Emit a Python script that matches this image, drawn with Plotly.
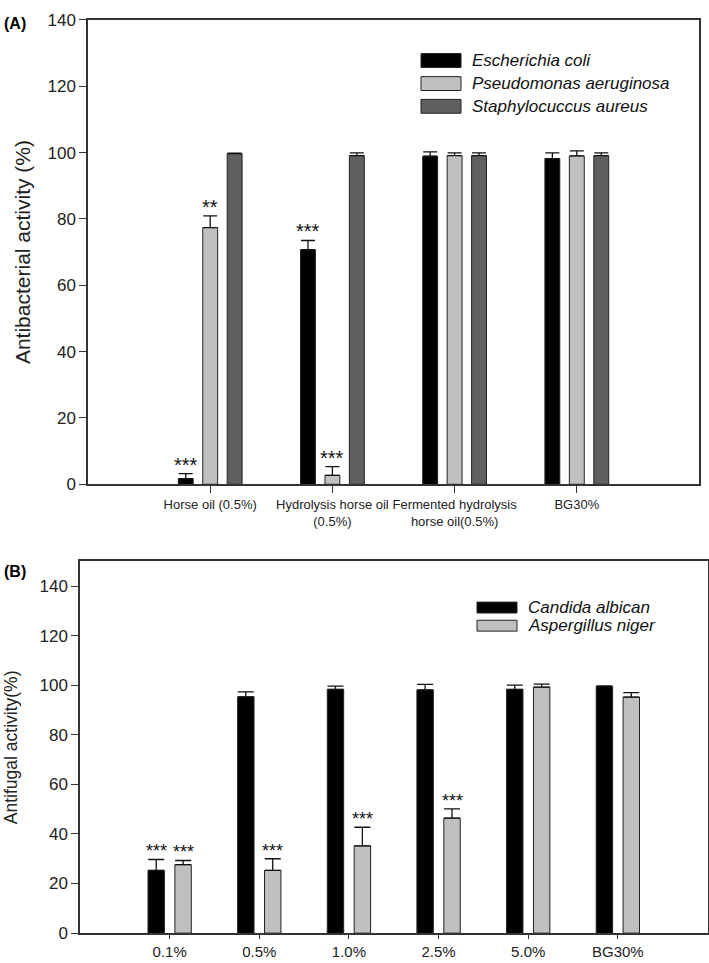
import plotly.graph_objects as go

# ---------------- Data: Panel A (antibacterial) ----------------
cats_A = ["Horse oil (0.5%)", "Hydrolysis horse oil<br>(0.5%)",
          "Fermented hydrolysis<br>horse oil(0.5%)", "BG30%"]
series_A = ["Escherichia coli", "Pseudomonas aeruginosa", "Staphylococcus aureus"]
legend_A = ["Escherichia coli", "Pseudomonas aeruginosa", "Staphylocuccus aureus"]
ecoli = [1.7, 70.7, 98.9, 98.2]
ecoli_err = [1.5, 2.8, 1.3, 1.7]
paer = [77.4, 2.7, 99.1, 99.0]
paer_err = [3.5, 2.6, 0.8, 1.5]
saur = [99.7, 99.1, 99.1, 99.1]
saur_err = [0.1, 0.8, 0.8, 0.8]
sig_ecoli = ["***", "***", "", ""]
sig_paer = ["**", "***", "", ""]
sig_saur = ["", "", "", ""]

# ---------------- Data: Panel B (antifungal) ----------------
cats_B = ["0.1%", "0.5%", "1.0%", "2.5%", "5.0%", "BG30%"]
legend_B = ["Candida albican", "Aspergillus niger"]
calb = [25.3, 95.3, 98.3, 98.1, 98.3, 99.5]
calb_err = [4.4, 2.0, 1.3, 2.2, 1.7, 0.2]
anig = [27.6, 25.3, 35.2, 46.4, 99.2, 95.2]
anig_err = [1.7, 4.7, 7.5, 3.7, 1.2, 1.8]
sig_calb = ["***", "", "", "", "", ""]
sig_anig = ["***", "***", "***", "***", "", ""]

# ---------------- Styles ----------------
W, H = 709, 963
SY, OY = 0.99, 0.0
BARGAP, BARGROUPGAP = 0.4, 0.39
FONT = "Liberation Sans, Arial, sans-serif"
AX = "#333333"
col_A = ["#000000", "#c0c0c0", "#606060"]
col_B = ["#000000", "#c0c0c0"]

def px_x(p):
    return p / W

def px_y(p):
    return min(1.0, max(0.0, 1 - ((p - OY) / SY) / H))

dom_xA = [px_x(88), px_x(699)]
dom_yA = [px_y(480), px_y(11)]
dom_xB = [px_x(80), px_x(707.5)]
dom_yB = [px_y(933.3), px_y(557.7)]

fig = go.Figure()

def add_bars(cats, vals, errs, color, name, xa, ya, errw):
    fig.add_trace(go.Bar(
        x=cats, y=vals, name=name, xaxis=xa, yaxis=ya, showlegend=False,
        marker=dict(color=color, line=dict(color="#222222", width=1)),
        error_y=dict(type="data", array=errs, arrayminus=[0] * len(errs),
                     symmetric=False, color="#111111", thickness=1.3, width=errw),
    ))

data_A = [(ecoli, ecoli_err, sig_ecoli), (paer, paer_err, sig_paer), (saur, saur_err, sig_saur)]
for i, (v, e, s) in enumerate(data_A):
    add_bars(cats_A, v, e, col_A[i], series_A[i], "x", "y", 7)

data_B = [(calb, calb_err, sig_calb), (anig, anig_err, sig_anig)]
for i, (v, e, s) in enumerate(data_B):
    add_bars(cats_B, v, e, col_B[i], legend_B[i], "x2", "y2", 8)

annotations = []
shapes = []

def add_sig(data, xa, ya, n, size, shift):
    slot = (1 - BARGAP) / n
    for i, (v, e, s) in enumerate(data):
        for j in range(len(v)):
            if s[j]:
                annotations.append(dict(
                    x=j + (i - (n - 1) / 2) * slot, y=v[j] + e[j], xref=xa, yref=ya,
                    text=s[j], showarrow=False, yanchor="bottom", yshift=shift,
                    font=dict(family=FONT, size=size, color="#111111")))

add_sig(data_A, "x", "y", 3, 20, -4)
add_sig(data_B, "x2", "y2", 2, 18, -4)

# manual legends (wide swatches like the original)
def add_legend(names, colors, x0, y_centers, sw_h, text_x):
    for nm, c, yc in zip(names, colors, y_centers):
        shapes.append(dict(type="rect", xref="paper", yref="paper",
                           x0=px_x(x0), x1=px_x(x0 + 40),
                           y0=px_y(yc + sw_h / 2), y1=px_y(yc - sw_h / 2),
                           fillcolor=c, line=dict(color="#222222", width=1)))
        annotations.append(dict(x=px_x(text_x), y=px_y(yc), xref="paper", yref="paper",
                                xanchor="left", yanchor="middle", showarrow=False,
                                text="<i>%s</i>" % nm,
                                font=dict(family=FONT, size=17, color="#111111")))

add_legend(legend_A, col_A, 421, [52, 75.3, 98.3], 14, 470)
add_legend(legend_B, col_B, 477, [604.5, 622.8], 11, 526)

# panel labels and axis titles
annotations.append(dict(x=px_x(2), y=px_y(15), xref="paper", yref="paper", xanchor="left",
                        yanchor="middle", showarrow=False, text="<b>(A)</b>",
                        font=dict(family=FONT, size=16, color="#000000")))
annotations.append(dict(x=px_x(2), y=px_y(568), xref="paper", yref="paper", xanchor="left",
                        yanchor="middle", showarrow=False, text="<b>(B)</b>",
                        font=dict(family=FONT, size=16, color="#000000")))
annotations.append(dict(x=px_x(22), y=px_y(245.5), xref="paper", yref="paper", xanchor="center",
                        yanchor="middle", showarrow=False, textangle=-90,
                        text="Antibacterial activity (%)",
                        font=dict(family=FONT, size=21, color="#222222")))
annotations.append(dict(x=px_x(11), y=px_y(745.5), xref="paper", yref="paper", xanchor="center",
                        yanchor="middle", showarrow=False, textangle=-90,
                        text="Antifugal activity(%)",
                        font=dict(family=FONT, size=17.5, color="#222222")))

axis_common = dict(showline=True, linecolor=AX, linewidth=1.5, mirror=True,
                   ticks="outside", tickcolor=AX, tickwidth=1.3,
                   showgrid=False, zeroline=False)

fig.update_layout(
    width=W, height=H, margin=dict(l=0, r=0, t=0, b=0),
    paper_bgcolor="white", plot_bgcolor="white",
    barmode="group", bargap=BARGAP, bargroupgap=BARGROUPGAP,
    showlegend=False,
    xaxis=dict(domain=dom_xA, anchor="y", type="category", range=[-1, 4], ticklen=7,
               tickfont=dict(family=FONT, size=13, color="#222222"), **axis_common),
    yaxis=dict(domain=dom_yA, anchor="x", range=[0, 140], tickvals=list(range(0, 141, 20)),
               ticklen=7, tickfont=dict(family=FONT, size=17, color="#222222"), **axis_common),
    xaxis2=dict(domain=dom_xB, anchor="y2", type="category", range=[-1, 6], ticklen=4,
                tickfont=dict(family=FONT, size=15, color="#222222"), **axis_common),
    yaxis2=dict(domain=dom_yB, anchor="x2", range=[0, 150], tickvals=list(range(0, 141, 20)),
                ticklen=7, tickfont=dict(family=FONT, size=17, color="#222222"), **axis_common),
    annotations=annotations, shapes=shapes,
)

# the page body gets no margin so the 709x963 figure fills the window exactly
fig.write_html("out.html", config={"displayModeBar": False},
               post_script="document.body.style.margin='0';document.body.style.overflow='hidden';")
